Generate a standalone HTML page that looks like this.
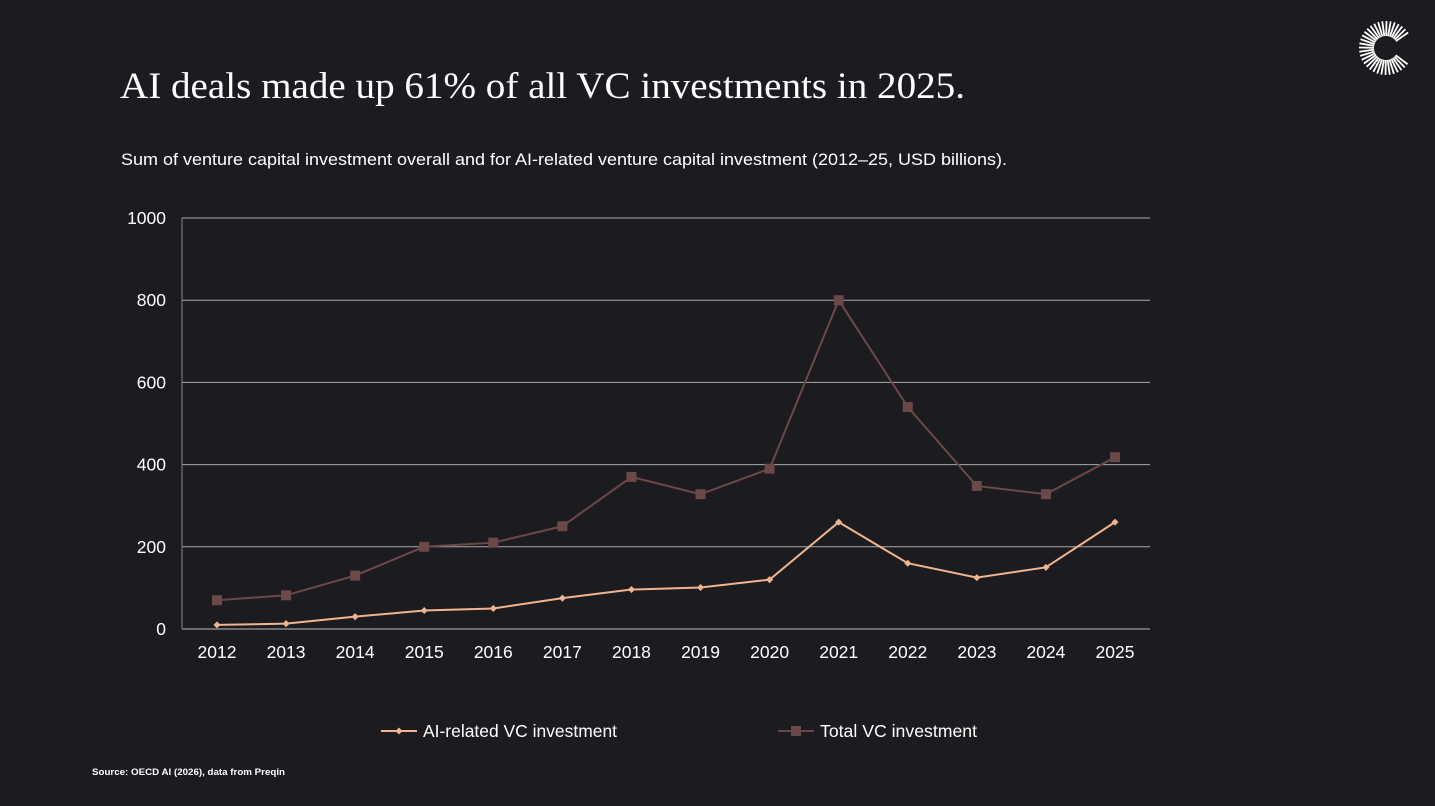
<!DOCTYPE html>
<html><head><meta charset="utf-8"><style>
html,body{margin:0;padding:0;background:#1c1b20;width:1435px;height:806px;overflow:hidden}
svg{display:block}
</style></head><body>
<svg id="c" width="1435" height="806" xmlns="http://www.w3.org/2000/svg">
<rect width="1435" height="806" fill="#1c1b20"/>
<text x="120" y="98" fill="#ffffff" font-family="Liberation Serif, serif" font-size="37" textLength="845" lengthAdjust="spacingAndGlyphs">AI deals made up 61% of all VC investments in 2025.</text>
<text x="121" y="165" fill="#ffffff" font-family="Liberation Sans, sans-serif" font-size="17" textLength="886" lengthAdjust="spacingAndGlyphs">Sum of venture capital investment overall and for AI-related venture capital investment (2012–25, USD billions).</text>
<text x="92" y="775" fill="#ffffff" font-family="Liberation Sans, sans-serif" font-size="9.5" font-weight="bold" textLength="193" lengthAdjust="spacingAndGlyphs">Source: OECD AI (2026), data from Preqin</text>
<g id="logo"></g>
<g id="grid"></g>
<g id="axes"></g>
<g id="series"></g>
<g id="legend">
  <line x1="381" y1="731" x2="417" y2="731" stroke="#f2b48e" stroke-width="2"/>
  <rect x="396.5" y="728.5" width="5" height="5" fill="#f2b48e" transform="rotate(45 399 731)"/>
  <text x="423" y="737" fill="#ffffff" font-family="Liberation Sans, sans-serif" font-size="17.5" textLength="194" lengthAdjust="spacingAndGlyphs">AI-related VC investment</text>
  <line x1="778" y1="731" x2="814" y2="731" stroke="#6d4848" stroke-width="2"/>
  <rect x="791" y="726" width="10" height="10" fill="#6d4848"/>
  <text x="820" y="737" fill="#ffffff" font-family="Liberation Sans, sans-serif" font-size="17.5" textLength="157" lengthAdjust="spacingAndGlyphs">Total VC investment</text>
</g>
</svg>
<script>
const years = ['2012','2013','2014','2015','2016','2017','2018','2019','2020','2021','2022','2023','2024','2025'];
const totalVC = [70,82,130,200,210,250,370,328,390,800,540,348,328,418];
const aiVC = [10,13,30,45,50,75,96,101,120,260,160,125,150,260];
const yTicks = [0,200,400,600,800,1000];

const NS='http://www.w3.org/2000/svg';
const x0=217, xStep=(1115-217)/13, y0=629, yTop=218, yMax=1000;
const xs=i=>x0+i*xStep;
const ys=v=>y0-(v/yMax)*(y0-yTop);
function mk(tag,attrs,parent){const e=document.createElementNS(NS,tag);for(const k in attrs)e.setAttribute(k,attrs[k]);parent.appendChild(e);return e;}

const grid=document.getElementById('grid');
yTicks.forEach(t=>{
  const l=mk('line',{x1:182,x2:1150,y1:ys(t),y2:ys(t),stroke:t===0?'#bbbbbb':'#aaaaaa','stroke-width':1},grid);
  
  
  const tx=mk('text',{x:166,y:ys(t)+6,fill:'#ffffff','font-family':'Liberation Sans, sans-serif','font-size':'17.5','text-anchor':'end'},grid);
  tx.textContent=t;
  
  
});
const axes=document.getElementById('axes');
const ya=mk('line',{x1:182,x2:182,y1:yTop,y2:y0,stroke:'#888888','stroke-width':1},axes);


years.forEach((yr,i)=>{
  const tx=mk('text',{x:xs(i),y:658,fill:'#ffffff','font-family':'Liberation Sans, sans-serif','font-size':'17.5','text-anchor':'middle'},axes);
  tx.textContent=yr;
  
  
});
const series=document.getElementById('series');
const pt=mk('polyline',{points:totalVC.map((v,i)=>xs(i)+','+ys(v)).join(' '),fill:'none',stroke:'#6d4848','stroke-width':2},series);


totalVC.forEach((v,i)=>{
  const r=mk('rect',{x:xs(i)-5,y:ys(v)-5,width:10,height:10,fill:'#6d4848'},series);
  
  
});
const pa=mk('polyline',{points:aiVC.map((v,i)=>xs(i)+','+ys(v)).join(' '),fill:'none',stroke:'#f2b48e','stroke-width':2},series);


aiVC.forEach((v,i)=>{
  const cx=xs(i),cy=ys(v);
  const r=mk('rect',{x:cx-2.5,y:cy-2.5,width:5,height:5,fill:'#f2b48e',transform:`rotate(45 ${cx} ${cy})`},series);
  
  
});
const logo=document.getElementById('logo');
const lcx=1386, lcy=48;
for(let a=35;a<=325;a+=9){
  const rad=a*Math.PI/180, r1=12, r2=(a%18===0)?31:27;
  const l=mk('line',{x1:lcx+r1*Math.cos(rad),y1:lcy-r1*Math.sin(rad),x2:lcx+r2*Math.cos(rad),y2:lcy-r2*Math.sin(rad),stroke:'#ffffff','stroke-width':1.8},logo);
  
  
}
</script>
</body></html>
